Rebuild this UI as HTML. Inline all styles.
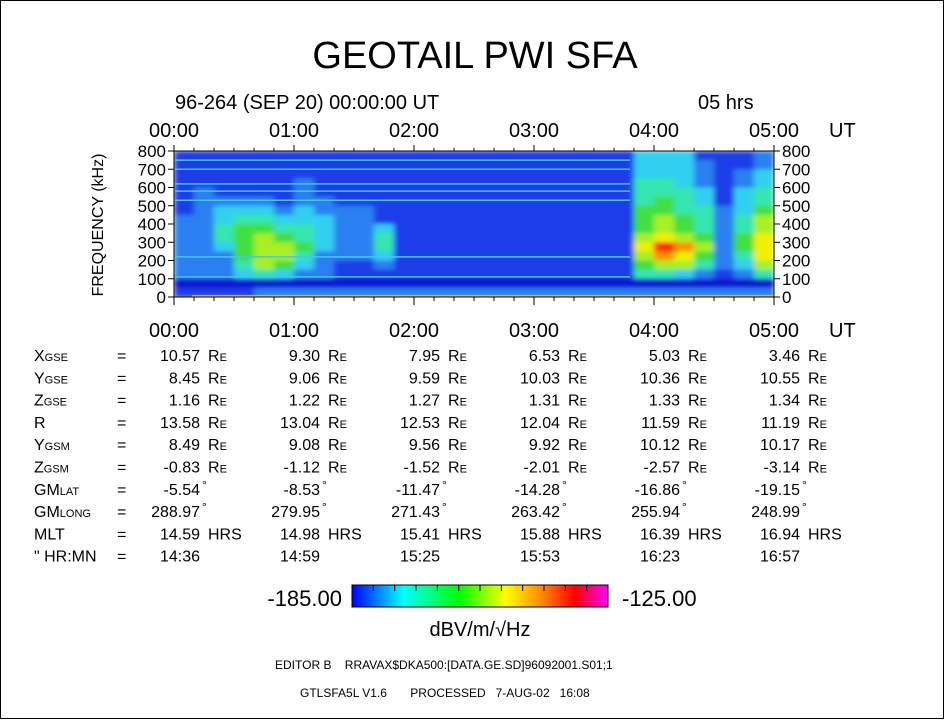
<!DOCTYPE html>
<html><head><meta charset="utf-8"><style>
html,body{margin:0;padding:0;background:#fff}
svg{display:block}
text{font-family:"Liberation Sans",sans-serif;fill:#000;white-space:pre}
</style></head><body>
<svg id="root" width="945" height="720" viewBox="0 0 945 720">
<rect x="0.5" y="0.5" width="943" height="718" fill="#fff" stroke="#000"/>
<text x="475" y="68" font-size="38" text-anchor="middle">GEOTAIL PWI SFA</text>
<text x="175" y="109" font-size="20">96-264 (SEP 20) 00:00:00 UT</text>
<text x="698" y="109" font-size="20">05 hrs</text>
<defs>
<clipPath id="pc"><rect x="174" y="151" width="600" height="146"/></clipPath>
<filter id="bl" x="-5%" y="-5%" width="110%" height="110%"><feGaussianBlur stdDeviation="3 2"/></filter>
<linearGradient id="cb" x1="0" x2="1" y1="0" y2="0">
<stop offset="0" stop-color="#0000ff"/><stop offset="0.2" stop-color="#00ffff"/><stop offset="0.42" stop-color="#00ff00"/><stop offset="0.6" stop-color="#ffff00"/><stop offset="0.75" stop-color="#ff8000"/><stop offset="0.87" stop-color="#ff0000"/><stop offset="1" stop-color="#ff00ff"/></linearGradient></defs>
<g clip-path="url(#pc)"><g id="spec" filter="url(#bl)"></g><g id="lines"></g></g>
<g id="axes"></g>
<g id="table"></g>
<rect x="352" y="585" width="256" height="22" fill="url(#cb)" stroke="#000"/>
<g id="cbticks"></g>
<text x="342" y="606" font-size="22" text-anchor="end">-185.00</text>
<text x="622" y="606" font-size="22">-125.00</text>
<text x="480" y="636" font-size="20" text-anchor="middle">dBV/m/√Hz</text>
<text x="275" y="669" font-size="12" xml:space="preserve">EDITOR B    RRAVAX$DKA500:[DATA.GE.SD]96092001.S01;1</text>
<text x="300" y="697" font-size="12" xml:space="preserve">GTLSFA5L V1.6       PROCESSED   7-AUG-02   16:08</text>
</svg>
<script>
const timeLabels=["00:00","01:00","02:00","03:00","04:00","05:00"];
const freqTicks=[0,100,200,300,400,500,600,700,800];
const specRows=[
"111111111111111111111113331112",
"111111111111111111111113332112",
"111111111111111111111113332123",
"111111211111111111111114432123",
"121111211111111111111114443134",
"122221221111111111111114543134",
"123332322211111111111115544235",
"223443332211111111111115654246",
"224554432231111111111115654246",
"224565432241111111111116765257",
"223566532241111111111117986257",
"222566422231111111111116875247",
"222465321121111111111115664236",
"222343221111111111111114432124",
"000000000000000000000000000000",
"111122222222222222222222222222"];
const lineFreqs=[110,220,530,580,620,700,750];
const levelColors=["#0a14d2","#1c3ce8","#2c80f0","#30d0f0","#34e6b0","#40e040","#a8f020","#f0f000","#ff9000","#ff2000"];
const rowLabels=["X<tspan font-size='11'>GSE</tspan>","Y<tspan font-size='11'>GSE</tspan>","Z<tspan font-size='11'>GSE</tspan>","R","Y<tspan font-size='11'>GSM</tspan>","Z<tspan font-size='11'>GSM</tspan>","GM<tspan font-size='11'>LAT</tspan>","GM<tspan font-size='11'>LONG</tspan>","MLT","\" HR:MN"];
const rowUnits=["R","R","R","R","R","R","°","°","HRS",""];
const rowValues=[
["10.57","9.30","7.95","6.53","5.03","3.46"],
["8.45","9.06","9.59","10.03","10.36","10.55"],
["1.16","1.22","1.27","1.31","1.33","1.34"],
["13.58","13.04","12.53","12.04","11.59","11.19"],
["8.49","9.08","9.56","9.92","10.12","10.17"],
["-0.83","-1.12","-1.52","-2.01","-2.57","-3.14"],
["-5.54","-8.53","-11.47","-14.28","-16.86","-19.15"],
["288.97","279.95","271.43","263.42","255.94","248.99"],
["14.59","14.98","15.41","15.88","16.39","16.94"],
["14:36","14:59","15:25","15:53","16:23","16:57"]];

const NS="http://www.w3.org/2000/svg";
const X0=174,X1=774,Y0=151,Y1=297;
const xs=t=>X0+(X1-X0)*t/5;
const ys=f=>Y1-(Y1-Y0)*f/800;
function mk(tag,attrs,parent){const e=document.createElementNS(NS,tag);for(const k in attrs)e.setAttribute(k,attrs[k]);parent.appendChild(e);return e;}
const spec=document.getElementById('spec');
const nC=specRows[0].length,nR=specRows.length;
specRows.forEach((row,r)=>{
  for(let c=0;c<nC;c++){
    const lv=+row[c];
    const fTop=800-r*800/nR,fBot=800-(r+1)*800/nR;
    const x=xs(c*5/nC),w=xs((c+1)*5/nC)-x;
    const el=mk('rect',{x:x,y:ys(fTop),width:w+0.5,height:ys(fBot)-ys(fTop)+0.5,fill:levelColors[lv]},spec);
    
    
  }
});
const lg=document.getElementById('lines');
lineFreqs.forEach(f=>{
  const el=mk('line',{x1:X0,x2:xs(3.8),y1:ys(f),y2:ys(f),stroke:"#40c8f0","stroke-width":1.5},lg);
  
  
});
const bl=mk('rect',{x:xs(0.15),y:ys(10),width:xs(5)-xs(0.15),height:2,fill:"#f0c000"},lg);


const ax=document.getElementById('axes');
const fr=mk('rect',{x:X0,y:Y0,width:X1-X0,height:Y1-Y0,fill:"none",stroke:"#000"},ax);


timeLabels.forEach((lab,i)=>{
  const x=xs(i);
  [137,337].forEach(y=>{
    const t=mk('text',{x:x,y:y,"font-size":20,"text-anchor":"middle"},ax);t.textContent=lab;
    
    
  });
  mk('line',{x1:x,x2:x,y1:Y0-6,y2:Y0,stroke:"#000"},ax);
  mk('line',{x1:x,x2:x,y1:Y1,y2:Y1+8,stroke:"#000"},ax);
  if(i<5)for(let k=1;k<6;k++){const xx=xs(i+k/6);mk('line',{x1:xx,x2:xx,y1:Y1,y2:Y1+4,stroke:"#000"},ax);mk('line',{x1:xx,x2:xx,y1:Y0-3,y2:Y0,stroke:"#000"},ax);}
});
[137,337].forEach(y=>{const t=mk('text',{x:829,y:y,"font-size":20},ax);t.textContent="UT";
  
  });
freqTicks.forEach(f=>{
  const y=ys(f);
  mk('line',{x1:X0-6,x2:X0,y1:y,y2:y,stroke:"#000"},ax);
  mk('line',{x1:X1,x2:X1+6,y1:y,y2:y,stroke:"#000"},ax);
  const a=mk('text',{x:X0-8,y:y+6,"font-size":17,"text-anchor":"end"},ax);a.textContent=f;
  
  
  const b=mk('text',{x:X1+8,y:y+6,"font-size":17},ax);b.textContent=f;
  
  
});
const yt=mk('text',{x:0,y:0,"font-size":16,"text-anchor":"middle",transform:"translate(103,225) rotate(-90)"},ax);
yt.textContent="FREQUENCY (kHz)";


const tb=document.getElementById('table');
rowValues.forEach((vals,r)=>{
  const y=361+r*22.3;
  const g=mk('g',{},tb);
  
  
  const l=mk('text',{x:34,y:y,"font-size":16},g);l.innerHTML=rowLabels[r];
  const e=mk('text',{x:117,y:y,"font-size":16},g);e.textContent="=";
  vals.forEach((v,c)=>{
    const xr=200+c*120;
    const t=mk('text',{x:xr,y:y,"font-size":16,"text-anchor":"end"},g);t.textContent=v;
    const u=rowUnits[r];
    if(u==="R"){const uu=mk('text',{x:xr+8,y:y,"font-size":16},g);uu.innerHTML="R<tspan font-size='11'>E</tspan>";}
    else if(u==="°"){const uu=mk('text',{x:xr+2,y:y-6,"font-size":12},g);uu.textContent="°";}
    else if(u){const uu=mk('text',{x:xr+8,y:y,"font-size":16},g);uu.textContent=u;}
  });
});
const cbt=document.getElementById('cbticks');
for(let i=1;i<12;i++){const x=352+256*i/12;mk('line',{x1:x,x2:x,y1:585,y2:591,stroke:"#000"},cbt);}
</script>
</body></html>
